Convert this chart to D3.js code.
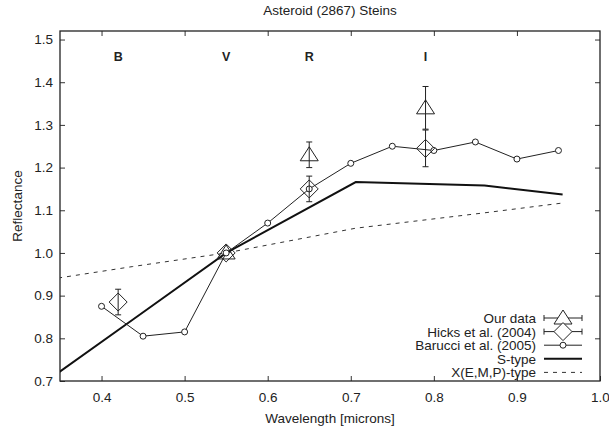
<!DOCTYPE html>
<html>
<head>
<meta charset="utf-8">
<script src="https://cdn.jsdelivr.net/npm/d3@7"></script>
<style>
  body { margin: 0; background: #fff; }
  svg { font-family: "Liberation Sans", Arial, sans-serif; }
  .tick text { font-size: 13.5px; fill: #222; }
</style>
</head>
<body>
<svg width="609" height="432"></svg>
<script>
// band labels
const bandNames = ['B', 'V', 'R', 'I'];
const bandWaves = [0.42, 0.55, 0.65, 0.79];

// our data (triangles)
const ourWave = [0.55, 0.65, 0.79];
const ourRefl = [1.0, 1.23, 1.34];
const ourErr = [0, 0.03, 0.05];

// Hicks et al. (2004) (diamonds)
const hicksWave = [0.42, 0.55, 0.65, 0.79];
const hicksRefl = [0.885, 1.0, 1.15, 1.245];
const hicksErr = [0.03, 0, 0.03, 0.043];

// Barucci et al. (2005) (circles)
const barWave = [0.40, 0.45, 0.50, 0.55, 0.60, 0.65, 0.70, 0.75, 0.80, 0.85, 0.90, 0.95];
const barRefl = [0.875, 0.805, 0.815, 1.0, 1.07, 1.15, 1.21, 1.25, 1.24, 1.26, 1.22, 1.24];

// S-type and X(E,M,P)-type templates
const sWave = [0.337, 0.437, 0.55, 0.706, 0.861, 0.955];
const sRefl = [0.704, 0.843, 1.0, 1.166, 1.158, 1.137];
const xWave = [0.337, 0.437, 0.55, 0.706, 0.861, 0.955];
const xRefl = [0.938, 0.968, 1.0, 1.058, 1.094, 1.117];

const xTicks = [0.4, 0.5, 0.6, 0.7, 0.8, 0.9, 1.0];
const yTicks = [0.7, 0.8, 0.9, 1.0, 1.1, 1.2, 1.3, 1.4, 1.5];

const svg = d3.select('svg');
const pLeft = 60, pRight = 600, pTop = 31, pBottom = 381;
const fs = 13.5;

const x = d3.scaleLinear().domain([0.35, 1.0]).range([pLeft, pRight]);
const y = d3.scaleLinear().domain([0.7, 1.52]).range([pBottom, pTop]);

svg.append('defs').append('clipPath').attr('id', 'plotclip')
  .append('rect').attr('x', pLeft).attr('y', pTop)
  .attr('width', pRight - pLeft).attr('height', pBottom - pTop);

// axes with inward ticks, mirrored
const fmt = d3.format('.1f');
svg.append('g').attr('transform', `translate(0,${pBottom})`)
  .call(d3.axisBottom(x).tickValues(xTicks).tickFormat(fmt).tickSize(-5).tickPadding(11))
  .call(g => g.select('.domain').remove());
svg.append('g').attr('transform', `translate(0,${pTop})`)
  .call(d3.axisTop(x).tickValues(xTicks.slice(0, -1)).tickFormat('').tickSize(-5))
  .call(g => g.select('.domain').remove());
svg.append('g').attr('transform', `translate(${pLeft},0)`)
  .call(d3.axisLeft(y).tickValues(yTicks).tickFormat(fmt).tickSize(-5).tickPadding(7))
  .call(g => g.select('.domain').remove());
svg.append('g').attr('transform', `translate(${pRight},0)`)
  .call(d3.axisRight(y).tickValues(yTicks.slice(1)).tickFormat('').tickSize(-5))
  .call(g => g.select('.domain').remove());
svg.selectAll('.tick line').attr('stroke', '#333');

svg.append('rect').attr('x', pLeft).attr('y', pTop)
  .attr('width', pRight - pLeft).attr('height', pBottom - pTop)
  .attr('fill', 'none').attr('stroke', '#222').attr('stroke-width', 1.3);

// titles
svg.append('text').attr('x', (pLeft + pRight) / 2).attr('y', 15)
  .attr('text-anchor', 'middle').attr('font-size', fs).attr('fill', '#222')
  .text('Asteroid (2867) Steins');
svg.append('text').attr('x', (pLeft + pRight) / 2).attr('y', 423)
  .attr('text-anchor', 'middle').attr('font-size', fs).attr('fill', '#222')
  .text('Wavelength [microns]');
svg.append('text').attr('transform', `translate(22,${(pTop + pBottom) / 2}) rotate(-90)`)
  .attr('text-anchor', 'middle').attr('font-size', fs).attr('fill', '#222')
  .text('Reflectance');

// band labels
svg.append('g').selectAll('text').data(bandNames).enter().append('text')
  .attr('x', (d, i) => x(bandWaves[i]))
  .attr('y', y(1.46) + 4.5)
  .attr('text-anchor', 'middle').attr('font-size', 12.5).attr('font-weight', 'bold')
  .attr('fill', '#222')
  .text(d => d);

const plot = svg.append('g').attr('clip-path', 'url(#plotclip)');

// templates
const line = d3.line().x(d => x(d[0])).y(d => y(d[1]));
plot.append('path').datum(xWave.map((w, i) => [w, xRefl[i]]))
  .attr('d', line).attr('fill', 'none').attr('stroke', '#333')
  .attr('stroke-width', 1).attr('stroke-dasharray', '4,5');
plot.append('path').datum(sWave.map((w, i) => [w, sRefl[i]]))
  .attr('d', line).attr('fill', 'none').attr('stroke', '#111')
  .attr('stroke-width', 2);

// Barucci
plot.append('path').datum(barWave.map((w, i) => [w, barRefl[i]]))
  .attr('d', line).attr('fill', 'none').attr('stroke', '#222').attr('stroke-width', 1);
plot.append('g').selectAll('circle').data(barWave).enter().append('circle')
  .attr('cx', d => x(d)).attr('cy', (d, i) => y(barRefl[i])).attr('r', 3)
  .attr('fill', '#fff').attr('stroke', '#222').attr('stroke-width', 1);

// error bars helper
function errBars(g, waves, vals, errs) {
  waves.forEach((w, i) => {
    if (!errs[i]) return;
    const cx = x(w), y0 = y(vals[i] - errs[i]), y1 = y(vals[i] + errs[i]);
    g.append('line').attr('x1', cx).attr('x2', cx).attr('y1', y0).attr('y2', y1);
    g.append('line').attr('x1', cx - 3).attr('x2', cx + 3).attr('y1', y0).attr('y2', y0);
    g.append('line').attr('x1', cx - 3).attr('x2', cx + 3).attr('y1', y1).attr('y2', y1);
  });
}
const triangle = 'M0,-8L9,6L-9,6Z';
const diamond = 'M0,-9L9,0L0,9L-9,0Z';

// Hicks
const hg = plot.append('g').attr('stroke', '#222').attr('stroke-width', 1);
errBars(hg, hicksWave, hicksRefl, hicksErr);
hg.selectAll('path').data(hicksWave).enter().append('path')
  .attr('d', diamond).attr('fill', 'none')
  .attr('transform', (d, i) => `translate(${x(d)},${y(hicksRefl[i])})`);

// our data
const og = plot.append('g').attr('stroke', '#222').attr('stroke-width', 1);
errBars(og, ourWave, ourRefl, ourErr);
og.selectAll('path').data(ourWave).enter().append('path')
  .attr('d', triangle).attr('fill', 'none')
  .attr('transform', (d, i) => `translate(${x(d)},${y(ourRefl[i])})`);

// legend
const legNames = ['Our data', 'Hicks et al. (2004)', 'Barucci et al. (2005)', 'S-type', 'X(E,M,P)-type'];
const lx0 = 544, lx1 = 582, lxc = 563, ly0 = 318, lstep = 13.6;
const leg = svg.append('g');
legNames.forEach((name, i) => {
  const ly = ly0 + i * lstep;
  leg.append('text').attr('x', 536).attr('y', ly + 5)
    .attr('text-anchor', 'end').attr('font-size', fs).attr('fill', '#222').text(name);
  const g = leg.append('g').attr('stroke', '#222').attr('stroke-width', 1).attr('fill', 'none');
  if (i < 2) {
    g.append('line').attr('x1', lx0).attr('x2', lx1).attr('y1', ly).attr('y2', ly);
    g.append('line').attr('x1', lx0).attr('x2', lx0).attr('y1', ly - 3).attr('y2', ly + 3);
    g.append('line').attr('x1', lx1).attr('x2', lx1).attr('y1', ly - 3).attr('y2', ly + 3);
    g.append('path').attr('d', i === 0 ? triangle : diamond).attr('fill', '#fff')
      .attr('transform', `translate(${lxc},${ly})`);
  } else if (i === 2) {
    g.append('line').attr('x1', lx0).attr('x2', lx1).attr('y1', ly).attr('y2', ly);
    g.append('circle').attr('cx', lxc).attr('cy', ly).attr('r', 3).attr('fill', '#fff');
  } else if (i === 3) {
    g.append('line').attr('x1', lx0).attr('x2', lx1).attr('y1', ly).attr('y2', ly)
      .attr('stroke', '#111').attr('stroke-width', 2);
  } else {
    g.append('line').attr('x1', lx0).attr('x2', lx1).attr('y1', ly).attr('y2', ly)
      .attr('stroke', '#333').attr('stroke-dasharray', '4,5');
  }
});
</script>
</body>
</html>
